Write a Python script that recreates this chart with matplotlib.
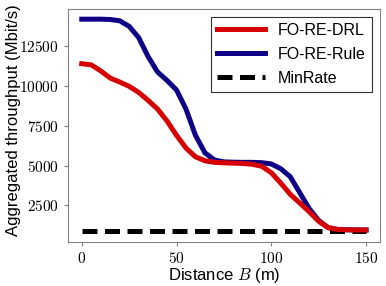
import numpy as np
import matplotlib
matplotlib.use("Agg")
import matplotlib.pyplot as plt
from matplotlib.ticker import FuncFormatter

# 거리 (m)
distance = [0, 5, 10, 15, 20, 25, 30, 35, 40, 45, 50, 55, 60, 65, 70, 75,
            80, 85, 90, 95, 100, 105, 110, 115, 120, 125, 130, 135, 140, 145, 150]

# 누적 처리량 (Mbit/s)
fo_re_drl = [11400, 11330, 10950, 10500, 10250, 9980, 9600, 9100, 8550, 7800,
             6900, 6100, 5550, 5300, 5200, 5170, 5150, 5130, 5080, 4950,
             4550, 3900, 3200, 2650, 2100, 1500, 1100, 980, 960, 950, 950]
fo_re_rule = [14200, 14200, 14200, 14180, 14100, 13750, 13050, 11850, 10880, 10350,
              9750, 8550, 6900, 5800, 5350, 5230, 5210, 5200, 5200, 5180,
              5100, 4800, 4300, 3300, 2300, 1550, 1100, 980, 960, 950, 950]
min_rate = [880] * len(distance)

plt.rcParams['mathtext.fontset'] = 'cm'
plt.rcParams['font.family'] = ['Liberation Sans', 'DejaVu Sans']

fig, ax = plt.subplots(figsize=(3.86, 2.86), dpi=100)

ax.plot(distance, fo_re_drl, color='#d60000', lw=3.6, label="FO-RE-DRL",
        zorder=3, solid_joinstyle='round')
ax.plot(distance, fo_re_rule, color='#0d0085', lw=3.6, label="FO-RE-Rule",
        zorder=2, solid_joinstyle='round')
ax.plot(distance, min_rate, color='black', lw=3.6, ls=(0, (3, 1.5)), label="MinRate")

ax.set_xticks([0, 50, 100, 150])
ax.set_yticks([2500, 5000, 7500, 10000, 12500])
fmt = FuncFormatter(lambda v, p: r"$%d$" % v)
ax.xaxis.set_major_formatter(fmt)
ax.yaxis.set_major_formatter(fmt)
ax.tick_params(labelsize=11, color='gray', length=3)
for s in ax.spines.values():
    s.set_color('gray')

ax.set_xlabel(r"Distance $B$ (m)", fontsize=12, labelpad=0)
ax.set_ylabel("Aggregated throughput (Mbit/s)", fontsize=12)
ax.yaxis.set_label_coords(-0.15, 0.52)

leg = ax.legend(loc='upper right', fontsize=11.5, fancybox=False, framealpha=1,
                edgecolor='#333333', handlelength=3.0, borderaxespad=0.5,
                labelspacing=0.55)
leg.get_frame().set_linewidth(0.8)

fig.subplots_adjust(left=0.175, right=0.985, top=0.97, bottom=0.155)
fig.savefig("out.png", dpi=100)
